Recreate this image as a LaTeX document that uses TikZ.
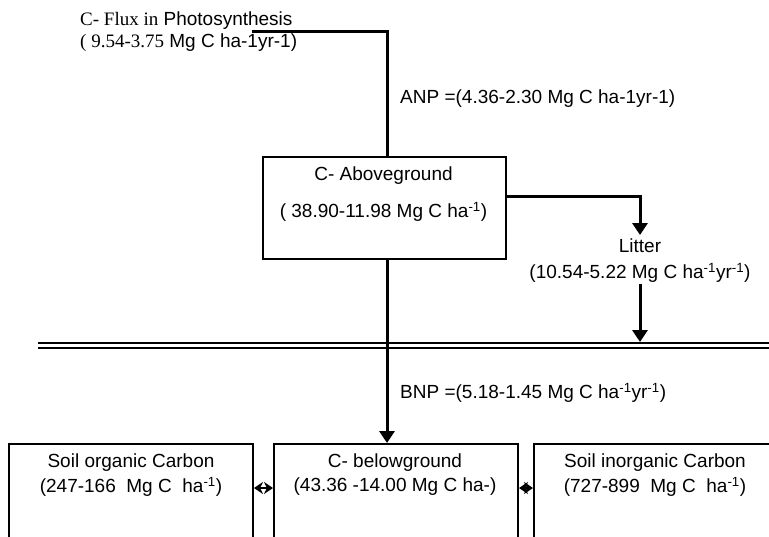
\documentclass[tikz,border=0pt]{standalone}
\usepackage{fontspec}
\setmainfont{Liberation Sans}
\newfontfamily\serifpart{Liberation Serif}
\usetikzlibrary{arrows.meta}
\newcommand{\perunit}{\textsuperscript{-1}}
\begin{document}
\begin{tikzpicture}[x=1pt,y=-1pt,
  every node/.style={font=\fontsize{19}{23}\selectfont, inner sep=0pt},
  pool/.style={draw, line width=2pt, anchor=north west},
  flow/.style={line width=3pt},
  flowarrow/.style={line width=3pt, -{Triangle[length=12pt,width=15pt]}},
  exchange/.style={line width=2.5pt, {Stealth[length=9pt,width=12pt]}-{Stealth[length=9pt,width=12pt]}},
  soil/.style={double, double distance=3.5pt, line width=1.6pt}]
\clip (0,0) rectangle (769,536);
\fill[white] (0,0) rectangle (769,536);

% main vertical carbon path
\coordinate (trunk) at (387,0);

% photosynthetic input
\node[anchor=base west] (flux) at (80,25) {{\serifpart C- Flux in} Photosynthesis};
\node[anchor=base west] (fluxval) at (80,47) {{\serifpart( 9.54-3.75} Mg C ha-1yr-1)};
\coordinate (fluxstart) at (252,31);

% aboveground pool
\node[pool, minimum width=243pt, minimum height=102pt] (above) at (262,156) {};
\node (abovet) at (383.5,176) {C- Aboveground};
\node (abovev) at (383.5,212) {( 38.90-11.98 Mg C ha\perunit)};

\node[anchor=west] (anp) at (400,99) {ANP =(4.36-2.30 Mg C ha-1yr-1)};

% litter
\node (litter) at (640,246) {Litter};
\node (litterv) at (640,273) {(10.54-5.22 Mg C ha\perunit yr\perunit)};
\coordinate (littertop) at (640,235);
\coordinate (litterbot) at (640,284);

% soil surface
\coordinate (groundL) at (38,345.5);
\coordinate (groundR) at (769,345.5);
\draw[soil] (groundL) -- (groundR);
\coordinate (litterin) at (640,342);

\node[anchor=west] (bnp) at (400,393) {BNP =(5.18-1.45 Mg C ha\perunit yr\perunit)};

% belowground pools
\node[pool, minimum width=244pt, minimum height=120pt] (organic) at (8,443) {};
\node[pool, minimum width=244pt, minimum height=120pt] (below) at (273,443) {};
\node[pool, minimum width=260pt, minimum height=120pt] (inorganic) at (533,443) {};

\node (organict) at (131,463) {Soil organic Carbon};
\node (organicv) at (131,487) {(247-166\ \ Mg C\ \ ha\perunit)};
\node (belowt) at (395,463) {C- belowground};
\node (belowv) at (395,487) {(43.36 -14.00 Mg C ha-)};
\node (inorganict) at (655,463) {Soil inorganic Carbon};
\node (inorganicv) at (655,487) {(727-899\ \ Mg C\ \ ha\perunit)};

% flows
\draw[flow] (fluxstart) -| (above.north -| trunk);
\draw[flowarrow] (above.east |- 0,196) -| (littertop);
\draw[flowarrow] (litterbot) -- (litterin);
\draw[flowarrow] (above.south -| trunk) -- (below.north -| trunk);

% exchanges between soil pools
\draw[exchange] (organic.east |- 0,488) -- (below.west |- 0,488);
\draw[exchange] (below.east |- 0,488) -- (inorganic.west |- 0,488);
\end{tikzpicture}
\end{document}
